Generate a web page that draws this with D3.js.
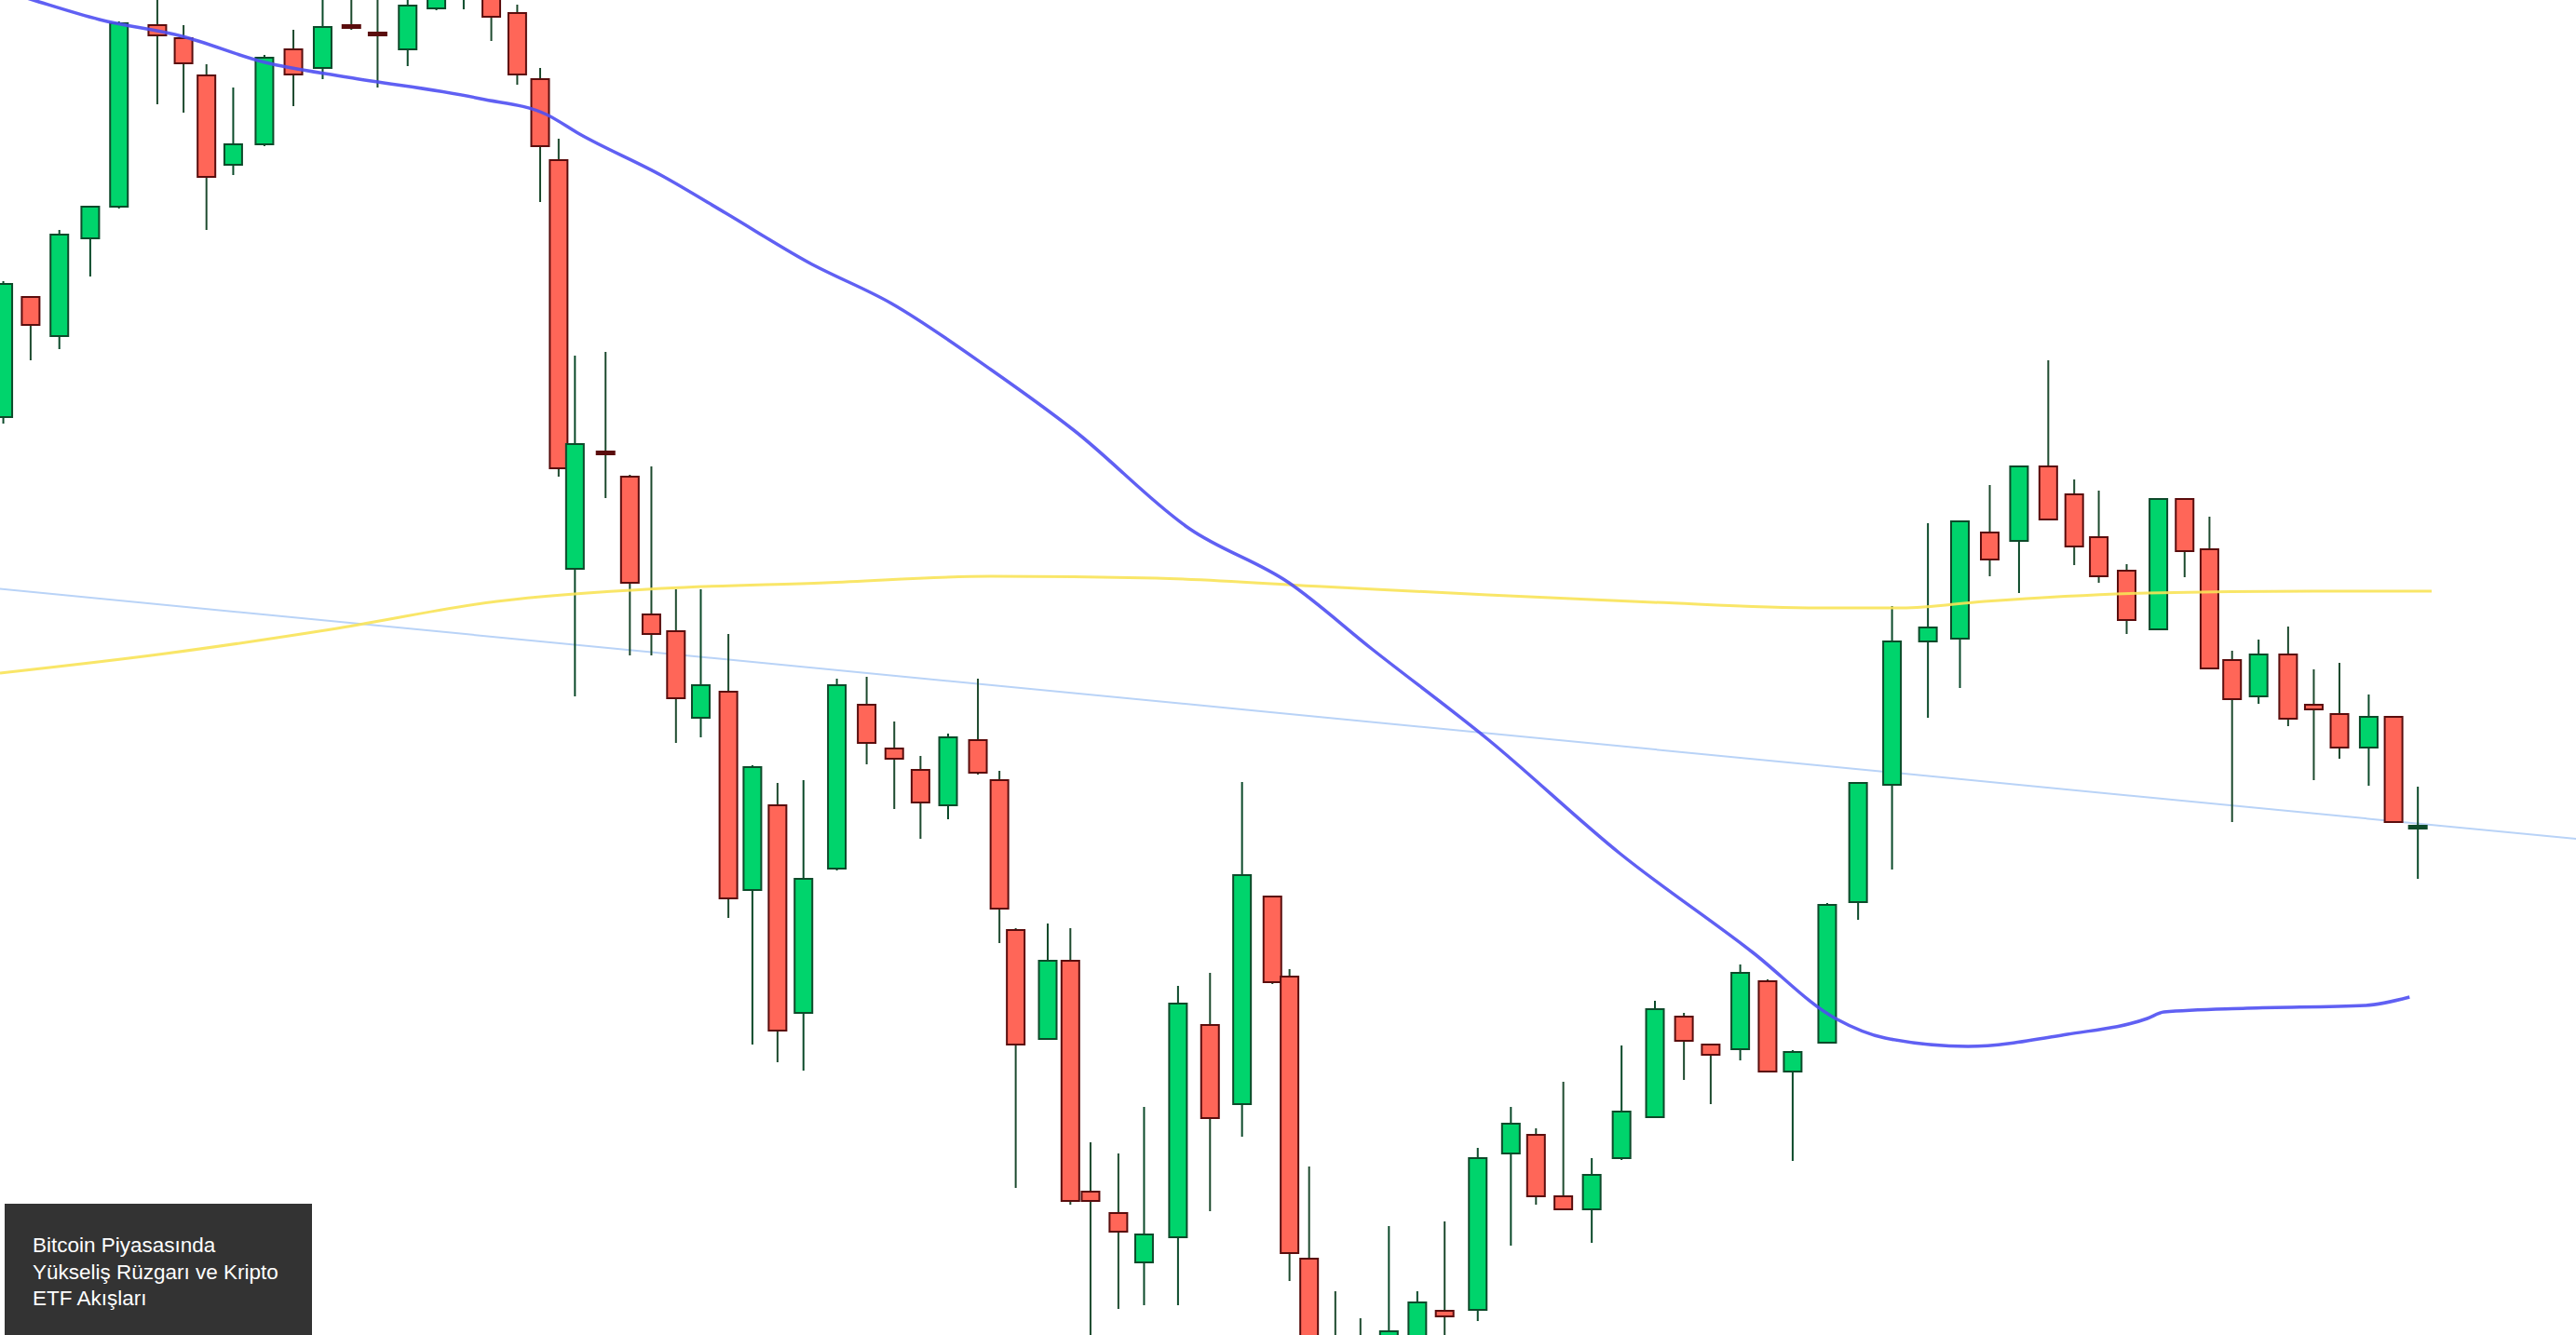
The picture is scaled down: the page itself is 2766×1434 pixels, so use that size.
<!DOCTYPE html>
<html><head><meta charset="utf-8">
<script src="https://cdn.jsdelivr.net/npm/d3@7"></script>
<style>html,body{margin:0;padding:0;background:#fff;overflow:hidden}</style>
</head><body><svg id="c" width="2766" height="1434"></svg>
<script>
const sessions = [0.12,1.11,2.15,3.27,4.31,5.70,6.65,7.48,8.45,9.58,10.63,11.69,12.73,13.68,14.77,15.81,16.80,17.80,18.74,19.57,20.24,20.83,21.94,22.82,23.60,24.49,25.39,26.39,27.26,28.17,29.11,30.32,31.40,32.40,33.35,34.35,35.43,36.21,36.80,37.96,38.78,39.51,40.52,41.45,42.68,43.84,45.00,46.10,46.72,47.43,48.38,49.29,50.32,51.35,52.34,53.54,54.74,55.65,56.64,57.67,58.75,59.96,61.01,61.98,63.05,64.04,64.95,66.20,67.32,68.55,69.85,71.01,72.09,73.15,74.21,75.15,76.04,77.05,78.20,79.15,80.05,80.87,81.83,82.90,83.83,84.76,85.82,86.72,87.60];
const opens  = [986,1115,1073,1178,1212,1407,1393,1353,1257,1279,1381,1361,1407,1399,1381,1425,1450,1445,1420,1349,1262,823,949,922,774,756,663,691,478,569,346,501,677,630,607,569,639,596,435,318,402,154,131,78,105,333,248,471,385,82,-10,-20,-20,-10,26,27,195,215,149,135,190,234,342,312,307,380,283,314,465,591,745,748,862,853,933,903,857,821,758,898,844,725,686,731,677,667,631,664,547];
const closes = [1129,1085,1182,1212,1409,1396,1366,1244,1279,1372,1354,1405,1405,1396,1428,1450,1480,1416,1354,1277,931,957,947,808,753,684,698,469,610,327,490,698,636,619,572,642,604,458,312,402,144,144,111,108,356,233,494,379,88,-20,-40,-40,4,35,20,190,227,149,135,172,240,350,316,301,389,283,304,462,593,745,760,874,833,933,876,847,815,768,898,842,716,683,731,662,672,631,664,551,547];
const highs  = [1132,1115,1187,1212,1411,1460,1407,1365,1340,1375,1402,1444,1440,1445,1450,1470,1490,1460,1429,1361,1285,1052,1056,924,933,801,801,753,612,593,596,705,707,659,622,646,705,606,437,442,437,207,195,245,375,389,594,471,393,181,47,18,117,47,122,201,245,222,272,190,311,359,346,312,398,382,306,464,593,783,872,874,913,933,1047,919,907,828,898,898,879,735,747,761,715,722,688,664,589];
const lows   = [979,1047,1059,1137,1210,1322,1313,1187,1246,1277,1320,1349,1402,1340,1363,1423,1424,1390,1343,1217,922,686,899,730,730,636,642,448,312,293,284,499,613,565,533,554,602,421,158,318,140,-20,28,32,32,133,213,377,58,-40,-60,-60,-40,-30,-5,15,96,140,135,99,188,234,274,248,295,282,187,314,446,500,663,695,815,797,876,827,808,753,757,814,716,551,678,654,596,619,590,551,490];
const maBlueIdx = [0,1.2,3.6,6.6,9.6,12.6,17.4,19.8,21,24,26.3,29.3,32.3,35.9,38.9,43.1,46.7,49.7,53.9,58.7,63.5,66.5,68.3,71.3,74.9,77.8,78.4,81.4,85.7,87.3];
const maBlueVal = [1445,1434,1413,1395,1367,1351,1328,1311,1290,1245,1205,1152,1108,1037,972,866,808,737,640,517,411,340,319,310,323,340,347,351,354,363];
const maYellowIdx = [0,6,12,18,24,29.9,35.9,41.9,47.9,53.9,59.9,65.9,68.9,71.9,77.8,83.8,88.1];
const maYellowVal = [711,732,758,788,802,808,815,813,804,795,787,781,781,788,797,799,799];
const trendIdx = [-0.2,94];
const trendVal = [802,531];
const titleLines = ["Bitcoin Piyasasında","Yükseliş Rüzgarı ve Kripto","ETF Akışları"];

const svg = d3.select("#c");
const x = d3.scaleLinear().domain([0,93.33]).range([0,2766]);
const y = d3.scaleLinear().domain([0,1434]).range([1434,0]);
const line = d3.line().x(d=>x(d[0])).y(d=>y(d[1])).curve(d3.curveMonotoneX);

svg.append("path").attr("d", line(trendIdx.map((v,i)=>[v,trendVal[i]])))
  .attr("fill","none").attr("stroke","#b9d3f7").attr("stroke-width",2);

const data = opens.map((o,i)=>({t:sessions[i],o,c:closes[i],h:highs[i],l:lows[i]}));
const g = svg.append("g");
const bw = 19;
data.forEach(d=>{
  const up = d.c >= d.o;
  const dk = up ? "#0d4a2a" : "#5a0d0d";
  g.append("line").attr("x1",x(d.t)).attr("x2",x(d.t)).attr("y1",y(d.h)).attr("y2",y(d.l))
    .attr("stroke", up ? "#0b4a2a" : "#1d4a2e").attr("stroke-width",2);
  const top = y(Math.max(d.o,d.c)), bot = y(Math.min(d.o,d.c));
  const hgt = Math.max(bot-top, 3);
  g.append("rect").attr("x",x(d.t)-bw/2).attr("y",top).attr("width",bw).attr("height",hgt)
    .attr("fill", hgt<=4 ? dk : (up ? "#00d46c" : "#ff6658")).attr("stroke",dk).attr("stroke-width",2);
});

svg.append("path").attr("d", line(maYellowIdx.map((v,i)=>[v,maYellowVal[i]])))
  .attr("fill","none").attr("stroke","#f8e358").attr("stroke-width",3).attr("opacity",0.9);
svg.append("path").attr("d", line(maBlueIdx.map((v,i)=>[v,maBlueVal[i]])))
  .attr("fill","none").attr("stroke","#4f4ff2").attr("stroke-width",3.5).attr("opacity",0.9);

const box = svg.append("g");
box.append("rect").attr("x",5).attr("y",1293).attr("width",330).attr("height",141).attr("fill","#333333");
box.selectAll("text").data(titleLines).join("text")
  .attr("x",35).attr("y",(d,i)=>1345+i*28.5)
  .attr("fill","#fff").attr("font-family","Liberation Sans, Arial, sans-serif").attr("font-size",22.5)
  .text(d=>d);
</script></body></html>
